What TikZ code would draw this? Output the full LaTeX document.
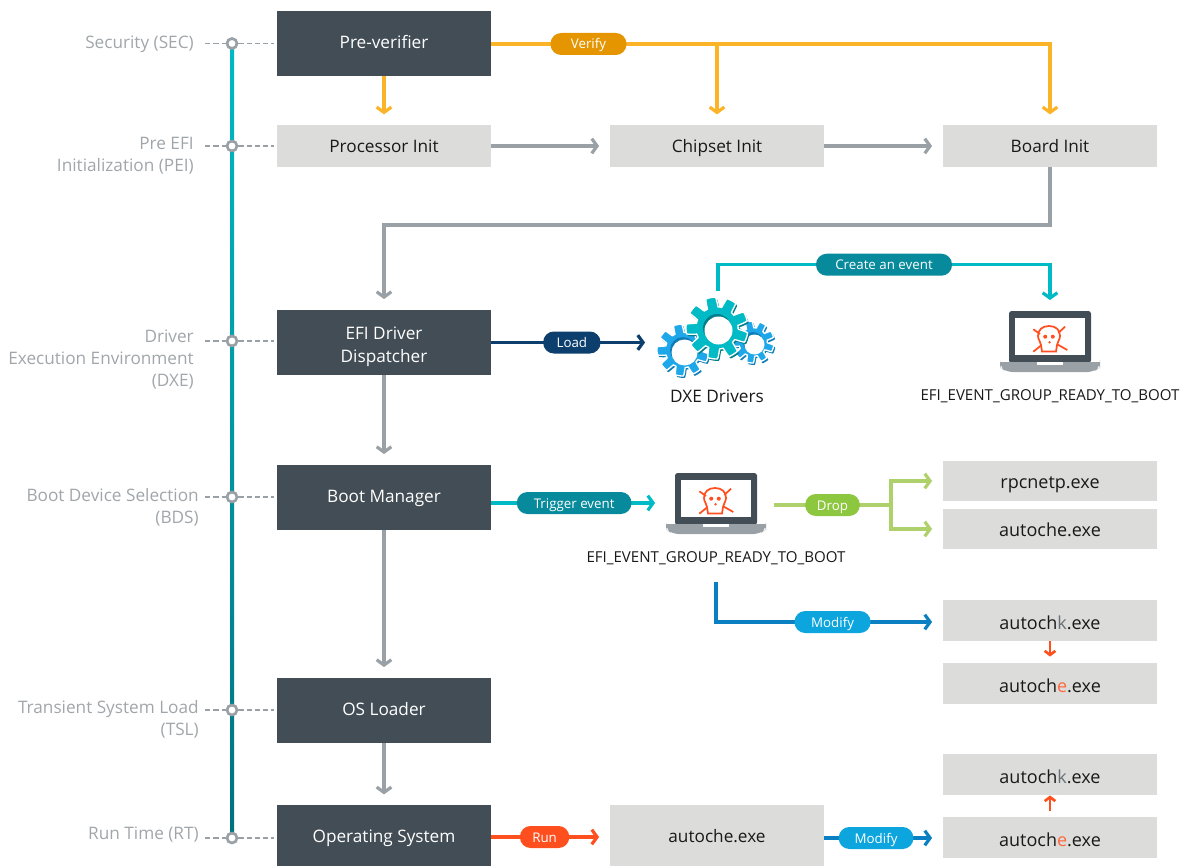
\documentclass[tikz,border=0pt]{standalone}
\usepackage{fontspec}
\setmainfont{Open Sans}
\usepackage{tikz}
\usetikzlibrary{arrows.meta,calc,positioning}

\definecolor{darkbox}{HTML}{434D56}
\definecolor{lightbox}{HTML}{DCDDDB}
\definecolor{labelgray}{HTML}{A0A6AA}
\definecolor{arrowgray}{HTML}{9AA1A6}
\definecolor{amberline}{HTML}{FBB427}
\definecolor{amberpill}{HTML}{E59500}
\definecolor{tealline}{HTML}{00BAC6}
\definecolor{tealpill}{HTML}{078A9C}
\definecolor{tealdark}{HTML}{007F8C}
\definecolor{navyline}{HTML}{0D3F6E}
\definecolor{greenline}{HTML}{AFD16B}
\definecolor{greenpill}{HTML}{8DC63F}
\definecolor{blueline}{HTML}{0A80C2}
\definecolor{bluepill}{HTML}{0CA5DE}
\definecolor{redline}{HTML}{FF4F1E}
\definecolor{gearblue}{HTML}{1FA8E9}
\definecolor{gearblued}{HTML}{0F7DB8}

\tikzset{
	dark/.style={fill=darkbox,text=white,minimum width=160.5pt,minimum height=48.75pt,align=center,font=\fontsize{12.9}{17.25}\selectfont,inner sep=0pt},
	oneline/.style={text height=9pt,text depth=2.2pt},
	light/.style={fill=lightbox,text=black!90,minimum width=160.5pt,minimum height=31pt,font=\fontsize{12.9}{16}\selectfont,inner sep=0pt,text height=10pt,text depth=0pt},
	exe/.style={light,font=\fontsize{13.5}{16}\selectfont,text height=14pt},
	stage/.style={text=labelgray,align=right,anchor=east,font=\fontsize{12.9}{16.7}\selectfont,inner sep=0pt},
	dot/.style={circle,draw=arrowgray,fill=white,line width=2pt,minimum size=7.5pt,inner sep=0pt},
	guide/.style={draw=arrowgray,line width=.8pt,dash pattern=on 4pt off 2.2pt},
	flow/.style={line width=2.4pt,-{Straight Barb[length=4pt,width=11pt]},shorten >=8pt},
	smallflow/.style={flow,redline,line width=2pt,-{Straight Barb[length=3pt,width=8pt]}},
	pill/.style={rounded corners=8pt,text=white,minimum height=16.5pt,inner sep=0pt,font=\fontsize{10}{11}\selectfont,text height=8pt,text depth=.5pt},
	icon/.style={minimum width=75pt,minimum height=48pt,inner sep=0pt},
	caption/.style={text=black!90,inner sep=0pt,font=\fontsize{11.3}{12}\selectfont}
}

% one gear: x, y, outer radius, colour, dark colour, hole radius
\newcommand{\drawgear}[6]{
	\fill[#5,shift={(#1+1.5,#2+2)}] plot[domain=0:360,samples=240,variable=\a] ({\a+8}:{#3*(.84+.16*max(-1,min(1,2.5*(sin(9*\a)+.3))))}) -- cycle;
	\fill[#4,shift={(#1,#2)},draw=white,line width=1pt] plot[domain=0:360,samples=240,variable=\a] ({\a+8}:{#3*(.84+.16*max(-1,min(1,2.5*(sin(9*\a)+.3))))}) -- cycle;
	\fill[#5] (#1,#2) circle (#6);
	\fill[white] (#1+1.5,#2+2.5) circle (#6);
}

% laptop with the skull, drawn round a node centre
\newcommand{\drawlaptop}[1]{
	\begin{scope}[shift={(#1)}]
		\fill[darkbox,rounded corners=2pt] (-41,-32) rectangle (41,20);
		\fill[white] (-35,-25) rectangle (35,12);
		\fill[arrowgray,rounded corners=5pt] (-50,19) -- (50,19) -- (50,24) -- (44,29) -- (-44,29) -- (-50,24) -- cycle;
		\fill[arrowgray] (-50,19) rectangle (50,23);
		\fill[white] (-13,19) rectangle (13,22);
		\begin{scope}[shift={(-1,-5)},redline,line width=1.3pt]
			\draw (0,-12) .. controls (-7,-12) and (-11,-8) .. (-11,-2) .. controls (-11,2) and (-8,4) .. (-8,7) -- (-7,13.5) -- (7,13.5) -- (8,7) .. controls (8,4) and (11,2) .. (11,-2) .. controls (11,-8) and (7,-12) .. (0,-12) -- cycle;
			\draw (-15.7,-8.7) -- (-9,-4);
			\draw (16,-11.3) -- (9.3,-5);
			\draw (-15.7,13.7) -- (-8,7.5);
			\draw (18.3,12) -- (8.5,6.5);
			\fill (-3.8,-1.3) circle (2);
			\fill (3.8,-1.3) circle (2);
			\fill (.5,4.3) circle (1.3);
		\end{scope}
	\end{scope}
}

\begin{document}
\begin{tikzpicture}[x=.75pt,y=-.75pt]
	\useasboundingbox (0,0) rectangle (1184,866);

	% timeline
	\path[top color=tealline,bottom color=tealdark!90!black] (230,43.5) rectangle (234,838);
	\node (d1) [dot] at (232,43.5) {};
	\node (d2) [dot] at (232,146) {};
	\node (d3) [dot] at (232,341) {};
	\node (d4) [dot] at (232,497) {};
	\node (d5) [dot] at (232,710) {};
	\node (d6) [dot] at (232,838) {};

	% boxes
	\node (preverifier) [dark,oneline] at (384,43.5) {Pre-verifier};
	\node (processor) [light] at (384,146) {Processor Init};
	\node (chipset) [light] at (717,146) {Chipset Init};
	\node (board) [light] at (1050,146) {Board Init};
	\node (dispatcher) [dark] at (384,342.5) {\rule{0pt}{16.5pt}EFI Driver\\Dispatcher};
	\node (bootmgr) [dark,oneline] at (384,497.5) {Boot Manager};
	\node (osloader) [dark,oneline] at (384,710.5) {OS Loader};
	\node (os) [dark,oneline,text depth=0pt,minimum height=46pt] at (384,836) {Operating System};
	\node (rpcnetp) [exe,text height=11.5pt,minimum height=30pt] at (1050,481) {rpcnetp.exe};
	\node (autochea) [exe,text height=11.5pt,minimum height=30pt] at (1050,529) {autoche.exe};
	\node (autochkb) [exe] at (1050,620.5) {autoch\textcolor{darkbox!80}{k}.exe};
	\node (autocheb) [exe] at (1050,683.5) {autoch\textcolor{redline!85}{e}.exe};
	\node (autochkc) [exe] at (1050,774.5) {autoch\textcolor{darkbox!80}{k}.exe};
	\node (autochec) [exe] at (1050,837.5) {autoch\textcolor{redline!85}{e}.exe};
	\node (autoched) [light,minimum height=46pt] at (717,836) {autoche.exe};

	% stage labels
	\node (sec) [stage] at (194,44.5) {Security (SEC)};
	\node (pei) [stage] at (194,155.5) {Pre EFI\\Initialization (PEI)};
	\node (dxe) [stage] at (194,359.5) {Driver\\Execution Environment\\(DXE)};
	\node (bds) [stage] at (199,507) {Boot Device Selection\\(BDS)};
	\node (tsl) [stage] at (199,719) {Transient System Load\\(TSL)};
	\node (rt) [stage] at (199,835) {Run Time (RT)};

	\foreach \d/\b in {d1/preverifier,d2/processor,d3/dispatcher,d4/bootmgr,d5/osloader,d6/os}{
		\coordinate (l\d) at ($(\d)+(-27,0)$);
		\path[guide] (l\d) -- (\d);
		\path[guide,shorten >=2pt] (\d) -- (\d -| \b.west);
	}

	% icons
	\node (gears) [minimum width=93pt,minimum height=66pt,inner sep=0pt] at (718,342) {};
	\drawgear{683}{350}{26}{gearblue}{gearblued}{13}
	\drawgear{753}{342}{21}{gearblue}{gearblued}{10}
	\drawgear{717}{328}{31}{tealline}{tealdark}{14}
	\node (dxelabel) [caption,font=\fontsize{12.9}{14}\selectfont] at (717,396) {DXE Drivers};

	\node (laptopa) [icon] at (1050,343) {};
	\drawlaptop{1050,343}
	\node (eventa) [caption] at (1050,396) {EFI\_EVENT\_GROUP\_READY\_TO\_BOOT};
	\node (laptopb) [icon] at (716,505) {};
	\drawlaptop{716,505}
	\node (eventb) [caption] at (716,558) {EFI\_EVENT\_GROUP\_READY\_TO\_BOOT};

	% verify branch
	\draw[flow,amberline] (preverifier) -- (processor);
	\draw[flow,amberline] (preverifier.east |- 0,44) -| (chipset.north);
	\draw[flow,amberline] (preverifier.east |- 0,44) -| node[pos=.087,pill,fill=amberpill,minimum width=57pt] (verify) {Verify} (board.north);

	% init chain
	\draw[flow,arrowgray] (processor) -- (chipset);
	\draw[flow,arrowgray] (chipset) -- (board);
	\draw[flow,arrowgray] (board.south) -- ++(0,58) -| (dispatcher.north);
	\draw[flow,arrowgray] (dispatcher) -- (bootmgr);
	\draw[flow,arrowgray] (bootmgr) -- (osloader);
	\draw[flow,arrowgray] (osloader) -- (os);

	% labelled connectors
	\draw[flow,navyline] (dispatcher) -- node[pos=.49,pill,fill=navyline,minimum width=43pt] (load) {Load} (gears.west |- dispatcher);
	\draw[flow,tealline] (gears.north) ++(0,-7) -- ++(0,-26) -| node[pos=.25,pill,fill=tealpill,minimum width=102pt] (createevent) {Create an event} (laptopa.north);
	\draw[flow,tealline] (bootmgr.east |- 0,503) -- node[pos=.475,pill,fill=tealpill,minimum width=86pt] (trigger) {Trigger event} (laptopb.west |- 0,503);
	\coordinate (dropstart) at (774,505);
	\coordinate (dropfork) at (891,505);
	\draw[line width=2.4pt,greenline] (dropstart) -- node[pos=.5,pill,fill=greenpill,minimum width=41pt] (drop) {Drop} (dropfork);
	\draw[flow,greenline] (dropfork) |- (rpcnetp.west);
	\draw[flow,greenline] (dropfork) |- (autochea.west);
	\draw[flow,blueline] (716,582) |- node[pos=.757,pill,fill=bluepill,minimum width=57pt] (modifya) {Modify} (autochkb.west |- 0,622);
	\draw[smallflow,shorten >=4.5pt] (autochkb) -- (autocheb);
	\draw[smallflow,shorten >=0pt,shorten <=4pt] (autochec) -- (autochkc);
	\draw[flow,redline] (os.east |- 0,837) -- node[pos=.45,pill,fill=redline,minimum width=37pt] (run) {Run} (autoched.west |- 0,837);
	\draw[flow,blueline] (autoched.east |- 0,838) -- node[pos=.437,pill,fill=bluepill,minimum width=56pt] (modifyb) {Modify} (autochec.west |- 0,838);
\end{tikzpicture}
\end{document}
